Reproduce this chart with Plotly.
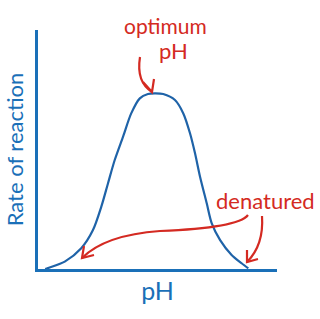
import plotly.graph_objects as go

# Curve data (pH on arbitrary 0-10 scale, rate 0-1)
ph_values = [0.30, 0.42, 1.12, 1.81, 2.30, 2.65, 2.93, 3.21, 3.56, 3.90, 4.26, 4.60, 4.88, 5.24, 5.73,
             6.08, 6.36, 6.57, 6.78, 7.06, 7.27, 7.62, 8.10, 8.52, 8.80]
rate_values = [0.0, 0.004, 0.031, 0.087, 0.163, 0.261, 0.359, 0.456, 0.554, 0.651, 0.714, 0.732, 0.735, 0.732, 0.707,
               0.651, 0.568, 0.484, 0.386, 0.275, 0.191, 0.121, 0.059, 0.024, 0.003]

x_title = "pH"
y_title = "Rate of reaction"
label_optimum = "optimum"
label_optimum2 = "pH"
label_denatured = "denatured"

BLUE = "#1a70b8"
CURVE = "#1f63a8"
RED = "#d42a22"
FONT = "Lato"

W, H = 320, 319
L, R, T, B = 38, 43, 30, 50
XR = (0, 10)
YR = (0, 1)

def X(px):
    return XR[0] + (px - L) / (W - L - R) * (XR[1] - XR[0])

def Y(py):
    return YR[0] + (H - B - py) / (H - T - B) * (YR[1] - YR[0])

def PX(px):
    return (px - L) / (W - L - R)

def PY(py):
    return (H - B - py) / (H - T - B)

def P(px, py):
    return f"{X(px):.4f},{Y(py):.4f}"

fig = go.Figure()
fig.add_trace(go.Scatter(x=ph_values, y=rate_values, mode="lines",
                         line=dict(color=CURVE, width=2.2, shape="spline", smoothing=0.8),
                         hoverinfo="skip", showlegend=False))

shapes = []
def path(d):
    shapes.append(dict(type="path", xref="x", yref="y", path=d,
                       line=dict(color=RED, width=2.2)))

# optimum arrow
path(f"M {P(140,57)} Q {P(136,82)} {P(152,92)}")
path(f"M {P(143,82)} L {P(152,92)} L {P(154,79)}")
# denatured arrow 1 (long, to left)
path(f"M {P(248,215)} Q {P(238,228)} {P(160,231)} Q {P(105,235)} {P(82,258)}")
path(f"M {P(84,246)} L {P(82,258)} L {P(94,255)}")
# denatured arrow 2
path(f"M {P(262,216)} Q {P(264,245)} {P(247,262)}")
path(f"M {P(247,250)} L {P(247,262)} L {P(258,259)}")

def label(px, py, text, size):
    fig.add_annotation(x=PX(px), y=PY(py), xref="paper", yref="paper", text=text,
                       xanchor="center", yanchor="middle", showarrow=False,
                       font=dict(family=FONT, size=size, color=RED))

label(165, 25, label_optimum, 21)
label(173, 51, label_optimum2, 22)
label(265, 200, label_denatured, 22)

fig.update_layout(
    width=W, height=H,
    margin=dict(l=L, r=R, t=T, b=B),
    paper_bgcolor="white", plot_bgcolor="white",
    shapes=shapes,
    xaxis=dict(range=list(XR), showline=True, linecolor=BLUE, linewidth=2.5,
               showgrid=False, zeroline=False, showticklabels=False, ticks="",
               title=dict(text=x_title, font=dict(family=FONT, size=25, color=BLUE), standoff=12)),
    yaxis=dict(range=list(YR), showline=True, linecolor=BLUE, linewidth=2.5,
               showgrid=False, zeroline=False, showticklabels=False, ticks="",
               title=dict(text=y_title, font=dict(family=FONT, size=22, color=BLUE), standoff=6)),
)

fig.write_html("out.html")
